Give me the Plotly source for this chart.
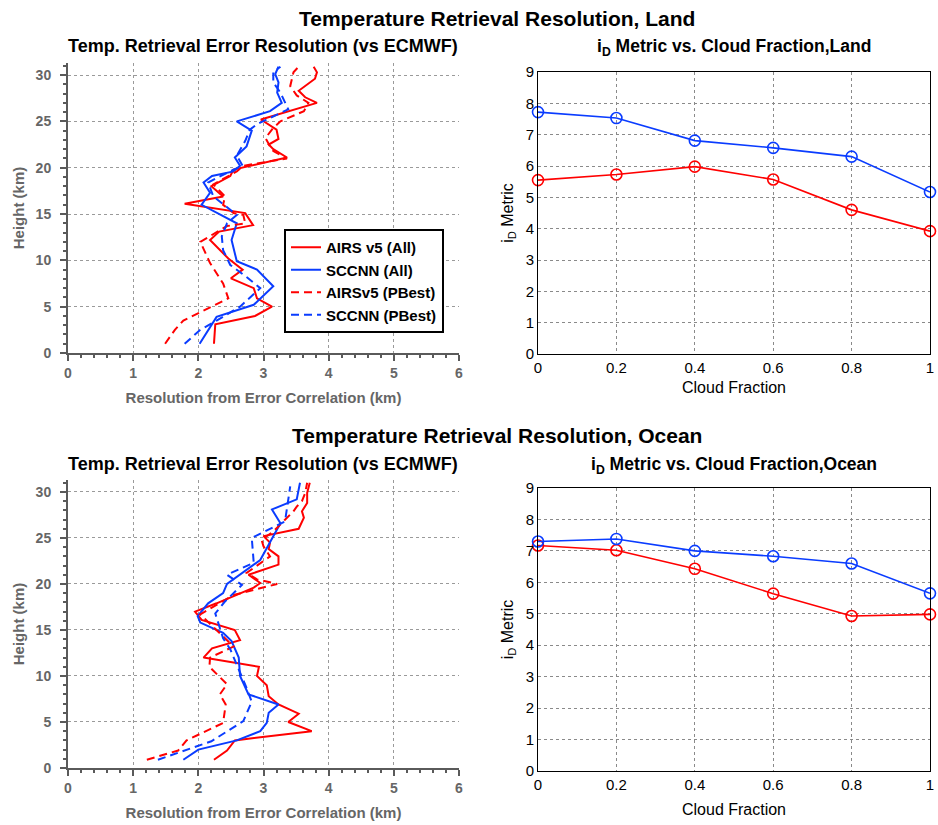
import plotly.graph_objects as go

# ---------------- data ----------------
# Land profiles (x = resolution km, y = height km)
land_airs_all_x = [2.24, 2.26, 2.87, 3.13, 2.90, 2.85, 2.50, 2.68, 2.46, 2.18, 2.32, 2.84, 2.72, 1.79, 2.38, 2.20, 2.49, 2.54, 3.36, 3.15, 3.08, 3.23, 3.20, 2.96, 3.82, 3.64, 3.54, 3.79, 3.82, 3.77]
land_airs_all_y = [1.0, 3.1, 4.0, 5.0, 5.9, 7.0, 8.06, 9.0, 10.2, 12.2, 13.1, 13.8, 15.1, 16.1, 16.9, 18.0, 19.1, 19.8, 21.1, 22.0, 22.5, 23.1, 24.1, 25.2, 27.0, 27.6, 28.3, 29.6, 30.3, 30.9]

land_scc_all_x = [2.02, 2.18, 2.28, 2.85, 3.15, 2.90, 2.59, 2.51, 2.59, 2.05, 2.18, 2.08, 2.21, 2.54, 2.64, 2.56, 2.74, 2.82, 2.59, 3.10, 3.28, 3.21, 3.23, 3.18, 3.23]
land_scc_all_y = [1.0, 2.8, 3.9, 5.2, 7.2, 9.0, 9.9, 12.2, 14.0, 16.0, 17.3, 18.4, 19.1, 19.6, 20.2, 21.1, 22.3, 24.0, 25.0, 26.1, 27.0, 28.1, 29.2, 30.1, 30.9]

land_airs_pb_x = [1.49, 1.64, 1.77, 2.03, 2.46, 2.38, 2.18, 2.03, 2.24, 2.44, 2.72, 2.69, 2.54, 2.38, 2.41, 2.23, 2.59, 2.69, 3.36, 3.15, 3.10, 3.03, 3.15, 3.26, 3.62, 3.69, 3.51, 3.41, 3.46, 3.54]
land_airs_pb_y = [1.0, 2.5, 3.5, 4.4, 5.9, 7.5, 9.7, 12.0, 12.9, 13.7, 14.0, 14.9, 15.1, 16.0, 16.9, 18.2, 19.6, 20.2, 21.0, 21.8, 22.3, 23.2, 24.3, 25.0, 26.1, 27.0, 27.8, 28.8, 30.3, 30.9]

land_scc_pb_x = [1.79, 2.03, 2.28, 2.64, 2.95, 2.74, 2.49, 2.38, 2.36, 2.44, 2.59, 2.23, 2.15, 2.54, 2.68, 2.59, 2.72, 2.79, 2.90, 3.38, 3.26, 3.15, 3.15, 3.26]
land_scc_pb_y = [1.0, 2.5, 3.5, 5.0, 7.0, 8.2, 9.5, 11.1, 12.6, 14.0, 14.9, 16.9, 18.4, 19.8, 20.2, 21.3, 22.9, 24.1, 24.7, 26.3, 28.1, 29.2, 30.3, 30.9]

# Ocean profiles
ocean_airs_all_x = [2.24, 2.44, 2.56, 3.74, 3.38, 3.54, 3.23, 3.08, 3.05, 2.90, 2.93, 2.08, 2.21, 2.64, 2.56, 2.05, 1.95, 2.28, 2.85, 2.95, 2.77, 3.23, 3.23, 3.08, 3.10, 3.00, 3.54, 3.62, 3.59, 3.67, 3.67, 3.71]
ocean_airs_all_y = [0.9, 1.9, 3.0, 4.0, 5.0, 5.9, 6.9, 7.8, 9.0, 10.0, 11.0, 12.0, 13.0, 13.9, 15.0, 16.1, 17.0, 17.9, 19.6, 20.1, 21.0, 22.1, 23.0, 23.8, 24.5, 25.2, 26.0, 27.2, 27.9, 28.8, 29.9, 31.0]

ocean_scc_all_x = [1.77, 2.00, 2.59, 2.95, 3.05, 3.08, 3.23, 2.77, 2.64, 2.62, 2.51, 2.38, 2.03, 1.99, 2.15, 2.38, 2.44, 2.72, 2.95, 3.26, 3.13, 3.51, 3.56]
ocean_scc_all_y = [0.9, 2.0, 3.0, 4.0, 4.9, 6.0, 6.9, 8.0, 10.0, 12.0, 13.8, 14.7, 15.8, 16.5, 17.9, 19.0, 20.0, 21.4, 22.6, 26.6, 28.1, 29.2, 31.0]

ocean_airs_pb_x = [1.21, 1.69, 1.82, 2.38, 2.42, 2.33, 2.44, 2.28, 2.17, 2.18, 2.38, 2.54, 2.03, 2.54, 3.21, 2.90, 2.74, 3.10, 3.00, 2.97, 3.15, 3.46, 3.51, 3.59, 3.64, 3.67]
ocean_airs_pb_y = [0.9, 1.9, 3.0, 4.9, 6.9, 8.0, 9.1, 10.2, 11.0, 12.0, 12.7, 13.2, 16.7, 18.8, 20.0, 20.5, 21.2, 23.0, 24.1, 24.8, 25.7, 27.9, 28.4, 29.0, 29.9, 31.0]

ocean_scc_pb_x = [1.38, 2.20, 2.69, 2.82, 2.74, 2.49, 2.38, 2.26, 2.41, 2.67, 2.44, 2.85, 2.82, 3.08, 3.33, 3.41]
ocean_scc_pb_y = [0.9, 2.9, 5.1, 7.2, 8.7, 12.9, 14.1, 16.8, 18.1, 19.9, 21.0, 22.3, 25.0, 25.9, 26.8, 30.6]

# iD metric vs cloud fraction
cloud_fraction = [0, 0.2, 0.4, 0.6, 0.8, 1.0]
land_airs_id = [5.55, 5.73, 5.98, 5.57, 4.60, 3.92]
land_scc_id = [7.72, 7.53, 6.81, 6.58, 6.30, 5.17]
ocean_airs_id = [7.17, 7.02, 6.43, 5.64, 4.93, 4.98]
ocean_scc_id = [7.30, 7.38, 7.00, 6.83, 6.60, 5.65]

series_names = ["AIRS v5 (All)", "SCCNN (All)", "AIRSv5 (PBest)", "SCCNN (PBest)"]
RED = "#ff0000"
BLUE = "#0a3cff"

# ---------------- figure ----------------
fig = go.Figure()
W, H = 938, 825

def px_x(p):
    return p / W

def px_y(p):
    return 1 - p / H

prof_sets = [
    ("x", "y", [(land_airs_all_x, land_airs_all_y), (land_scc_all_x, land_scc_all_y),
                (land_airs_pb_x, land_airs_pb_y), (land_scc_pb_x, land_scc_pb_y)], True),
    ("x3", "y3", [(ocean_airs_all_x, ocean_airs_all_y), (ocean_scc_all_x, ocean_scc_all_y),
                  (ocean_airs_pb_x, ocean_airs_pb_y), (ocean_scc_pb_x, ocean_scc_pb_y)], False),
]
styles = [(RED, "solid"), (BLUE, "solid"), (RED, "8px,5px"), (BLUE, "8px,5px")]
for xa, ya, data, show in prof_sets:
    for (xs, ys), (c, d), name in zip(data, styles, series_names):
        fig.add_trace(go.Scatter(x=xs, y=ys, mode="lines", name=name, xaxis=xa, yaxis=ya,
                                 line=dict(color=c, width=2, dash=d), showlegend=show))

for xa, ya, r, b in [("x2", "y2", land_airs_id, land_scc_id), ("x4", "y4", ocean_airs_id, ocean_scc_id)]:
    for vals, c in [(r, RED), (b, BLUE)]:
        fig.add_trace(go.Scatter(x=cloud_fraction, y=vals, mode="lines+markers", xaxis=xa, yaxis=ya,
                                 showlegend=False, cliponaxis=False,
                                 line=dict(color=c, width=1.6),
                                 marker=dict(symbol="circle-open", size=11, color=c, line=dict(width=1.6, color=c))))

GREY = "#5a5a5a"
left_font = dict(family="Liberation Sans, Arial, sans-serif", size=14, color="#666666", weight="bold")
left_title_font = dict(family="Liberation Sans, Arial, sans-serif", size=15, color="#666666")
right_font = dict(family="Liberation Sans, Arial, sans-serif", size=15, color="black")
rt_font = dict(family="Liberation Sans, Arial", size=16, color="black")

def left_x(domain, anchor):
    return dict(domain=domain, anchor=anchor, range=[0, 6], dtick=1, tick0=0, automargin=False,
                showline=True, linecolor=GREY, linewidth=2, ticks="outside", ticklen=6, tickwidth=1.5,
                tickcolor=GREY, tickfont=left_font,
                minor=dict(dtick=0.2, ticks="outside", ticklen=3, tickcolor=GREY, showgrid=False),
                showgrid=True, gridcolor="#9a9a9a", griddash="dot", gridwidth=1, zeroline=False,
                title=dict(text="<b>Resolution from Error Correlation (km)</b>", font=left_title_font, standoff=13))

def left_y(domain, anchor):
    return dict(domain=domain, anchor=anchor, range=[0, 31.3], dtick=5, tick0=0, automargin=False,
                showline=True, linecolor=GREY, linewidth=2, ticks="outside", ticklen=6, tickwidth=1.5,
                tickcolor=GREY, tickfont=left_font, ticklabelstandoff=6,
                minor=dict(dtick=1, ticks="outside", ticklen=3, tickcolor=GREY, showgrid=False),
                showgrid=True, gridcolor="#9a9a9a", griddash="dot", gridwidth=1, zeroline=False,
                title=dict(text="<b>Height (km)</b>", font=left_title_font, standoff=7))

def right_x(domain, anchor, standoff):
    return dict(domain=domain, anchor=anchor, range=[0, 1], dtick=0.2, tick0=0, automargin=False,
                showline=True, mirror=True, linecolor="black", linewidth=1, ticks="",
                tickfont=right_font, tickformat="~g",
                showgrid=True, gridcolor="#8a8a8a", griddash="dot", gridwidth=1, zeroline=False,
                title=dict(text="Cloud Fraction", font=rt_font, standoff=standoff))

def right_y(domain, anchor):
    return dict(domain=domain, anchor=anchor, range=[0, 9], dtick=1, tick0=0, automargin=False,
                showline=True, mirror=True, linecolor="black", linewidth=1, ticks="",
                tickfont=right_font,
                showgrid=True, gridcolor="#8a8a8a", griddash="dot", gridwidth=1, zeroline=False,
                title=dict(text="i<sub>D</sub> Metric", font=rt_font, standoff=8))

LX = [px_x(68), px_x(459)]
RX = [px_x(538), px_x(930)]
fig.update_layout(
    width=W, height=H, margin=dict(l=0, r=0, t=0, b=0),
    paper_bgcolor="white", plot_bgcolor="white",
    xaxis=left_x(LX, "y"), yaxis=left_y([px_y(353), px_y(63)], "x"),
    xaxis2=right_x(RX, "y2", 6), yaxis2=right_y([px_y(354), px_y(72)], "x2"),
    xaxis3=left_x(LX, "y3"), yaxis3=left_y([px_y(768), px_y(480)], "x3"),
    xaxis4=right_x(RX, "y4", 11), yaxis4=right_y([px_y(771), px_y(488)], "x4"),
    legend=dict(x=px_x(284), y=px_y(229), xanchor="left", yanchor="top",
                bordercolor="black", borderwidth=2, bgcolor="white",
                font=dict(family="Liberation Sans, Arial", size=15, color="black", weight="bold"),
                tracegroupgap=0, itemwidth=30),
    showlegend=True,
)

titles = [
    ("<b>Temperature Retrieval Resolution, Land</b>", 497, 18, 21),
    ("<b>Temp. Retrieval Error Resolution (vs ECMWF)</b>", 263, 46, 18),
    ("<b>i<sub>D</sub> Metric vs. Cloud Fraction,Land</b>", 734, 47, 17.5),
    ("<b>Temperature Retrieval Resolution, Ocean</b>", 497, 436, 21),
    ("<b>Temp. Retrieval Error Resolution (vs ECMWF)</b>", 263, 464, 18),
    ("<b>i<sub>D</sub> Metric vs. Cloud Fraction,Ocean</b>", 734, 465, 17.5),
]
for txt, cx, cy, sz in titles:
    fig.add_annotation(text=txt, x=px_x(cx), y=px_y(cy), xref="paper", yref="paper",
                       xanchor="center", yanchor="middle", showarrow=False,
                       font=dict(family="Liberation Sans, Arial, sans-serif", size=sz, color="black"))

fig.write_html("out.html")
